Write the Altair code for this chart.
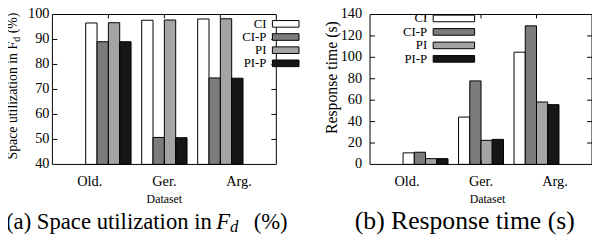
import altair as alt
import pandas as pd

# ---------------- data ----------------
categories = ["Old.", "Ger.", "Arg."]
series = ["CI", "CI-P", "PI", "PI-P"]
series_fills = ["#ffffff", "#7c7c7c", "#a4a4a4", "#161616"]

space_ci = [96.6, 97.7, 98.2]
space_cip = [89.1, 50.8, 74.6]
space_pi = [96.7, 97.8, 98.3]
space_pip = [89.1, 50.7, 74.5]

resp_ci = [10.8, 44.2, 104.8]
resp_cip = [11.4, 78.0, 129.4]
resp_pi = [5.4, 22.5, 58.3]
resp_pip = [5.4, 23.4, 55.8]

space_ticks = [40, 50, 60, 70, 80, 90, 100]
resp_ticks = [0, 20, 40, 60, 80, 100, 120, 140]

FONT = "Liberation Serif"
TOP, BOTTOM = 5, 157
one = pd.DataFrame({"a": [0]})


def long_df(cols):
    rows = []
    for s, vals in zip(series, cols):
        for c, v in zip(categories, vals):
            rows.append({"cat": c, "series": s, "value": v})
    return pd.DataFrame(rows)


fill_enc = alt.Fill("series:N", scale=alt.Scale(domain=series, range=series_fills), legend=None)


def label(text, x, y, size, align="left", angle=0, style="normal", baseline="alphabetic"):
    return alt.Chart(one).mark_text(
        text=text, font=FONT, fontSize=size, color="black", align=align,
        baseline=baseline, angle=angle, fontStyle=style
    ).encode(x=alt.value(x), y=alt.value(y))


def panel(df, ticks, x0, x1, ylab_x, ylab_size, leg_text_x, leg_sw, leg_rows, leg_size):
    xs = alt.Scale(domain=categories, range=[x0, x1], paddingInner=0.19, paddingOuter=0.595)
    ys = alt.Scale(domain=[ticks[0], ticks[-1]], range=[BOTTOM, TOP], nice=False, zero=False)
    inner = pd.DataFrame({"v": ticks[1:-1]})
    cats = pd.DataFrame({"cat": categories})
    leg = pd.DataFrame({"series": series})
    layers = []
    layers.append(alt.Chart(df).mark_bar(stroke="black", strokeWidth=1).encode(
        x=alt.X("cat:N", scale=xs, axis=None),
        xOffset=alt.XOffset("series:N", scale=alt.Scale(domain=series, paddingInner=0, paddingOuter=0)),
        y=alt.Y("value:Q", scale=ys, axis=None),
        y2=alt.Y2Datum(ticks[0]),
        fill=fill_enc,
    ))
    for a, b in [(x0, x0 + 5), (x1 - 5, x1)]:
        layers.append(alt.Chart(inner).mark_rule(color="black", strokeWidth=1).encode(
            y=alt.Y("v:Q", scale=ys, axis=None), x=alt.value(a), x2=alt.value(b)))
    for a, b in [(TOP, TOP + 4), (BOTTOM - 4, BOTTOM)]:
        layers.append(alt.Chart(cats).mark_rule(color="black", strokeWidth=1).encode(
            x=alt.X("cat:N", scale=xs, axis=None), y=alt.value(a), y2=alt.value(b)))
    layers.append(alt.Chart(pd.DataFrame({"v": ticks})).mark_text(
        align="right", baseline="middle", font=FONT, fontSize=ylab_size, color="black").encode(
        y=alt.Y("v:Q", scale=ys, axis=None), x=alt.value(ylab_x), text="v:Q"))
    layers.append(alt.Chart(cats).mark_text(
        align="center", baseline="alphabetic", font=FONT, fontSize=14.5, color="black").encode(
        x=alt.X("cat:N", scale=xs, axis=None), y=alt.value(178.5), text="cat:N"))
    layers.append(alt.Chart(one).mark_rect(fillOpacity=0, stroke="black", strokeWidth=1).encode(
        x=alt.value(x0), x2=alt.value(x1), y=alt.value(TOP), y2=alt.value(BOTTOM)))
    r0, r1 = leg_rows
    layers.append(alt.Chart(leg).mark_text(
        align="right", baseline="middle", font=FONT, fontSize=leg_size, color="black").encode(
        y=alt.Y("series:N", scale=alt.Scale(type="point", domain=series, range=[r0, r1], padding=0), axis=None),
        x=alt.value(leg_text_x), text="series:N"))
    step = (r1 - r0) / 3.0
    pi = 1 - 6.7 / step
    b0 = r0 - 3.35
    b1 = b0 + step * (4 - pi)
    layers.append(alt.Chart(leg).mark_rect(stroke="black", strokeWidth=1).encode(
        y=alt.Y("series:N", scale=alt.Scale(type="band", domain=series, range=[b0, b1],
                                            paddingInner=pi, paddingOuter=0), axis=None),
        x=alt.value(leg_sw[0]), x2=alt.value(leg_sw[1]), fill=fill_enc))
    return layers


left = panel(long_df([space_ci, space_cip, space_pi, space_pip]), space_ticks,
             45, 272, 42, 14.5, 262, (268, 295), (14.5, 54.5), 13)
right = panel(long_df([resp_ci, resp_cip, resp_pi, resp_pip]), resp_ticks,
              367, 592, 359, 14.5, 425, (431, 473), (9, 50), 13)

texts = [
    label("Dataset", 158.5, 196, 12, align="center"),
    label("Dataset", 486, 196, 12, align="center"),
    # left y title: Space utilization in F_d (%)
    label("Space utilization in F", 9.5, 152, 14, angle=270),
    label("d", 12.5, 32.6, 10, angle=270),
    label("(%)", 9.5, 24, 14, angle=270),
    # right y title
    label("Response time (s)", 334, 69, 16, align="center", angle=270),
    # captions
    label("(a) Space utilization in", -2, 222, 23),
    label("F", 211, 222, 23, style="italic"),
    label("d", 225, 225.5, 17, style="italic"),
    label("(%)", 249, 222, 23),
    label("(b) Response time (s)", 463, 222, 26, align="center"),
]

chart = alt.layer(*left, *right, *texts).resolve_scale(
    x="independent", y="independent", xOffset="independent"
).properties(
    width=592, height=230, padding=0, autosize=alt.AutoSizeParams(type="none")
).configure_view(stroke="transparent")

chart.save("out.html", embed_options={"renderer": "svg", "actions": False})
